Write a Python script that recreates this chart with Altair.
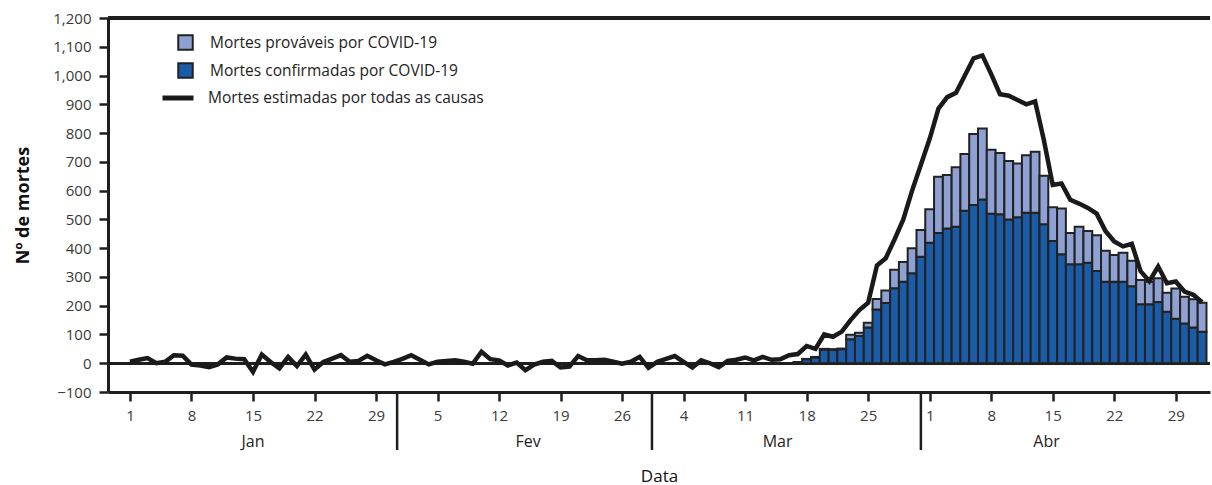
import altair as alt
import pandas as pd

# ---------------- data ----------------
ano_inicio = pd.Timestamp("2020-01-01")

# estimated all-cause excess deaths, daily, 1 Jan .. 2 May 2020
todas_causas = [
    5, 12, 18, 0, 5, 28, 26, -5, -8, -14,
    -4, 20, 16, 14, -30, 30, 4, -18, 22, -10,
    30, -22, 4, 16, 28, 5, 8, 26, 10, -4,
    5, 15, 28, 12, -4, 5, 8, 10, 5, -2,
    40, 14, 10, -8, 2, -24, -5, 5, 8, -15,
    -12, 25, 10, 10, 12, 5, -2, 5, 22, -16,
    5, 15, 25, 5, -15, 10, 0, -14, 8, 12,
    20, 10, 22, 12, 14, 28, 32, 60, 50, 100,
    92, 110, 150, 185, 210, 340, 365, 430, 500, 600,
    690, 780, 885, 925, 940, 1000, 1060, 1070, 1005, 935,
    930, 915, 900, 910, 775, 620, 625, 568, 555, 540,
    520, 460, 423, 406, 415, 320, 285, 336, 278, 284,
    249, 238, 212,
]

# COVID-19 deaths, daily, 17 Mar .. 2 May 2020
inicio_barras = "2020-03-17"
confirmadas = [
    4, 14, 20, 47, 46, 49, 83, 95, 124, 187,
    209, 261, 283, 313, 370, 419, 453, 468, 474, 530,
    550, 569, 520, 518, 500, 507, 523, 523, 483, 425,
    379, 344, 344, 349, 321, 283, 283, 283, 268, 205,
    205, 213, 179, 155, 138, 124, 109,
]
provaveis = [
    0, 1, 2, 3, 3, 2, 16, 11, 17, 36,
    44, 64, 69, 87, 93, 116, 195, 186, 207, 197,
    247, 247, 222, 213, 203, 187, 200, 212, 169, 117,
    159, 109, 130, 111, 124, 108, 93, 101, 88, 84,
    78, 82, 66, 105, 93, 98, 101,
]

tick_datas = [
    "2020-01-01", "2020-01-08", "2020-01-15", "2020-01-22", "2020-01-29",
    "2020-02-05", "2020-02-12", "2020-02-19", "2020-02-26",
    "2020-03-04", "2020-03-11", "2020-03-18", "2020-03-25",
    "2020-04-01", "2020-04-08", "2020-04-15", "2020-04-22", "2020-04-29",
]
tick_rotulos = ["1", "8", "15", "22", "29", "5", "12", "19", "26",
                "4", "11", "18", "25", "1", "8", "15", "22", "29"]

y_ticks = [-100, 0, 100, 200, 300, 400, 500, 600, 700, 800, 900, 1000, 1100, 1200]

meses = ["Jan", "Fev", "Mar", "Abr"]
meses_centro = [14.0, 45.3, 73.7, 104.3]      # in days since 1 Jan
meses_divisa = [30.4, 59.4, 90.0]             # in days since 1 Jan

lbl_prov = "Mortes prováveis por COVID-19"
lbl_conf = "Mortes confirmadas por COVID-19"
lbl_total = "Mortes estimadas por todas as causas"

# ---------------- tables ----------------
line_df = pd.DataFrame({
    "dia": list(range(len(todas_causas))),
    "valor": todas_causas,
    "serie": lbl_total,
})

b0 = (pd.Timestamp(inicio_barras) - ano_inicio).days
rows = []
for i, (c, p) in enumerate(zip(confirmadas, provaveis)):
    d = b0 + i
    rows.append({"x0": d - 0.5, "x1": d + 0.5, "y0": 0, "y1": c, "tipo": lbl_conf})
    rows.append({"x0": d - 0.5, "x1": d + 0.5, "y0": c, "y1": c + p, "tipo": lbl_prov})
bar_df = pd.DataFrame(rows)

tick_vals = [(pd.Timestamp(t) - ano_inicio).days for t in tick_datas]
label_expr = " : ".join(f"datum.value == {v} ? '{l}'" for v, l in zip(tick_vals, tick_rotulos)) + " : ''"

mes_df = pd.DataFrame({"dia": meses_centro, "mes": meses})
div_df = pd.DataFrame({"dia": meses_divisa})

# ---------------- styling ----------------
FONT = "Open Sans"
INK = "#1e1e1e"
LBL = "#3a3a3a"
W, H = 1102, 374

xscale = alt.Scale(domain=[-2.5, 122.9], nice=False, zero=False)
yscale = alt.Scale(domain=[-100, 1200], nice=False, zero=False)

xaxis = alt.Axis(
    values=tick_vals, labelExpr=label_expr, title="Data", grid=False,
    domainColor=INK, domainWidth=3, tickColor=INK, tickWidth=2.5, tickSize=9,
    labelFont=FONT, labelFontSize=15, labelColor=LBL, labelPadding=7,
    labelFlush=False, labelOverlap=False,
    titleFont=FONT, titleFontSize=17, titleFontWeight="normal", titleColor="#111",
    titlePadding=45,
)
yaxis = alt.Axis(
    values=y_ticks, labelExpr="format(datum.value, ',')", title="Nº de mortes", grid=False,
    domainColor=INK, domainWidth=3, tickColor=INK, tickWidth=2.5, tickSize=9,
    labelFont=FONT, labelFontSize=15, labelColor=LBL, labelPadding=8,
    labelOverlap=False, labelFlush=False,
    titleFont=FONT, titleFontSize=18, titleFontWeight="bold", titleColor="#111",
    titlePadding=20,
)

X = lambda f: alt.X(f, scale=xscale, axis=xaxis)
Y = lambda f: alt.Y(f, scale=yscale, axis=yaxis)

zero_rule = alt.Chart(line_df).mark_rule(color=INK, strokeWidth=2.5).encode(
    y=alt.Y(datum=0, scale=yscale, axis=yaxis))
top_rule = alt.Chart(line_df).mark_rule(color=INK, strokeWidth=2.5).encode(
    y=alt.Y(datum=1200, scale=yscale, axis=yaxis))

bars = alt.Chart(bar_df).mark_bar(stroke="#222222", strokeWidth=2).encode(
    x=X("x0:Q"), x2="x1:Q",
    y=Y("y0:Q"), y2="y1:Q",
    fill=alt.Fill("tipo:N",
                  scale=alt.Scale(domain=[lbl_prov, lbl_conf], range=["#8ea1d2", "#1b5ca8"]),
                  legend=alt.Legend(title=None, orient="none", legendX=69, legendY=16,
                                    symbolType="square", symbolSize=210,
                                    symbolStrokeColor="#222222", symbolStrokeWidth=2,
                                    labelFont=FONT, labelFontSize=15.5, labelColor="#222",
                                    labelLimit=0, labelOffset=16, rowPadding=5, padding=0)),
)

line = alt.Chart(line_df).mark_line(strokeWidth=4.5).encode(
    x=X("dia:Q"), y=Y("valor:Q"),
    stroke=alt.Stroke("serie:N",
                      scale=alt.Scale(domain=[lbl_total], range=["#1a1a1a"]),
                      legend=alt.Legend(title=None, orient="none", legendX=52, legendY=62,
                                        symbolType="stroke", symbolSize=961,
                                        symbolStrokeWidth=5,
                                        labelFont=FONT, labelFontSize=15.5, labelColor="#222",
                                        labelLimit=0, labelOffset=12, padding=0)),
)

divisas = alt.Chart(div_df).mark_rule(color=INK, strokeWidth=2.5).encode(
    x=X("dia:Q"), y=alt.value(H), y2=alt.value(H + 58),
)
rot_meses = alt.Chart(mes_df).mark_text(font=FONT, fontSize=16, color="#222",
                                        baseline="middle", align="center").encode(
    x=X("dia:Q"), y=alt.value(H + 50), text="mes:N",
)

chart = alt.layer(zero_rule, top_rule, bars, line, divisas, rot_meses).resolve_scale(
    fill="independent", stroke="independent"
).properties(
    width=W, height=H,
    autosize=alt.AutoSizeParams(type="none"),
    padding={"left": 108, "top": 18, "right": 2, "bottom": 93},
).configure_view(stroke=None).configure_axis(grid=False)

chart.save("out.html", embed_options={"renderer": "svg", "actions": False})
